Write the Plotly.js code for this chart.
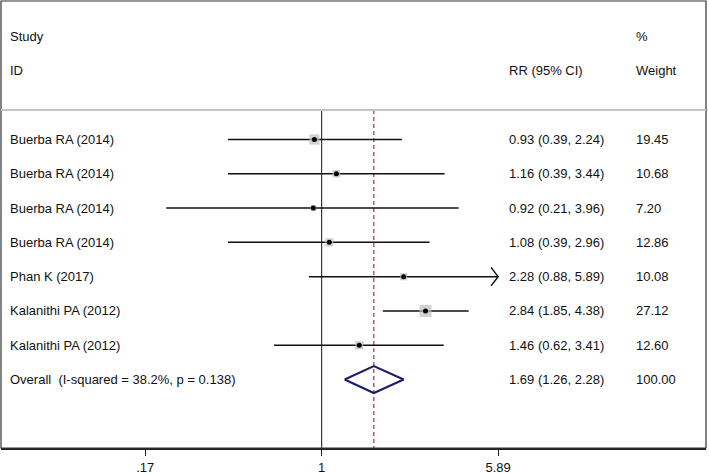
<!DOCTYPE html>
<html>
<head>
<meta charset="utf-8">
<script src="https://cdn.plot.ly/plotly-3.0.1.min.js"></script>
<style>html,body{margin:0;padding:0;background:#fff;}#chart{width:709px;height:474px;}</style>
</head>
<body>
<div id="chart"></div>
<script>
// ---- data ----
const studies = ['Buerba RA (2014)', 'Buerba RA (2014)', 'Buerba RA (2014)', 'Buerba RA (2014)',
                 'Phan K (2017)', 'Kalanithi PA (2012)', 'Kalanithi PA (2012)'];
const rr     = [0.93, 1.16, 0.92, 1.08, 2.28, 2.84, 1.46];
const lower  = [0.39, 0.39, 0.21, 0.39, 0.88, 1.85, 0.62];
const upper  = [2.24, 3.44, 3.96, 2.96, 5.89, 4.38, 3.41];
const weight = [19.45, 10.68, 7.20, 12.86, 10.08, 27.12, 12.60];
const overallLabel = 'Overall\u00a0 (I-squared = 38.2%, p = 0.138)';
const overallRR = 1.69, overallLo = 1.26, overallHi = 2.28, overallWeight = 100.00;
const tickVals = [0.17, 1, 5.89];
const tickText = ['.17', '1', '5.89'];
const headers = {study: 'Study', id: 'ID', rr: 'RR (95% CI)', pct: '%', weight: 'Weight'};

// ---- layout helpers ----
const n = studies.length;
const rows = studies.map((_, i) => i);
const overallRow = n;
const yTop = -4.039, yBot = 8.997;
const sepY = -0.86;
const xMin = -1.3988, xMax = 1.6771; // log10 range
const font = {family: '"Liberation Sans", Arial, sans-serif', size: 13, color: '#111'};

const traces = [];
// null line
traces.push({x: [1, 1], y: [sepY, yBot], mode: 'lines', line: {color: '#3a3a3a', width: 1.2}, hoverinfo: 'skip'});
// overall dashed line
traces.push({x: [overallRR, overallRR], y: [sepY, yBot], mode: 'lines', line: {color: '#a8323e', width: 1.2, dash: '4px,3px'}, hoverinfo: 'skip'});
// CI lines
const cx = [], cy = [];
for (let i = 0; i < n; i++) { cx.push(lower[i], upper[i], null); cy.push(rows[i], rows[i], null); }
traces.push({x: cx, y: cy, mode: 'lines', line: {color: '#111', width: 1.5}, hoverinfo: 'skip'});
// arrows for clipped upper limits
const axMax = tickVals[tickVals.length - 1];
const ax = [], ay = [];
for (let i = 0; i < n; i++) {
  if (upper[i] >= axMax) {
    const back = upper[i] / Math.pow(10, 0.031);
    ax.push(back, upper[i], back, null); ay.push(rows[i] - 0.27, rows[i], rows[i] + 0.27, null);
  }
}
traces.push({x: ax, y: ay, mode: 'lines', line: {color: '#111', width: 1.5}, hoverinfo: 'skip'});
// weight boxes
const maxW = Math.max(...weight);
traces.push({x: rr, y: rows, mode: 'markers', marker: {symbol: 'square', color: '#bdbdbd', size: weight.map(w => 12 * Math.sqrt(w / maxW)), line: {width: 0}}, hoverinfo: 'skip'});
// point estimates
traces.push({x: rr, y: rows, mode: 'markers', marker: {symbol: 'circle', color: '#000', size: 5}, hoverinfo: 'skip'});
// overall diamond
const dh = 0.394;
traces.push({x: [overallLo, overallRR, overallHi, overallRR, overallLo],
             y: [overallRow, overallRow - dh, overallRow, overallRow + dh, overallRow],
             mode: 'lines', line: {color: '#1c1c6b', width: 2}, hoverinfo: 'skip'});

// annotations
const xStudy = (8 - 1) / 705, xRR = (507 - 1) / 705, xW = (634 - 1) / 705;
const ann = [];
function t(x, y, text) { ann.push({xref: 'paper', yref: 'y', x: x, y: y, text: text, showarrow: false, xanchor: 'left', yanchor: 'middle', font: font}); }
t(xStudy, -3, headers.study); t(xStudy, -2, headers.id);
t(xRR, -2, headers.rr); t(xW, -3, headers.pct); t(xW, -2, headers.weight);
for (let i = 0; i < n; i++) {
  t(xStudy, rows[i], studies[i]);
  t(xRR, rows[i], rr[i].toFixed(2) + ' (' + lower[i].toFixed(2) + ', ' + upper[i].toFixed(2) + ')');
  t(xW, rows[i], weight[i].toFixed(2));
}
t(xStudy, overallRow, overallLabel);
t(xRR, overallRow, overallRR.toFixed(2) + ' (' + overallLo.toFixed(2) + ', ' + overallHi.toFixed(2) + ')');
t(xW, overallRow, overallWeight.toFixed(2));

const layout = {
  width: 709, height: 474,
  margin: {l: 1, r: 3, t: 1, b: 26},
  paper_bgcolor: '#fff', plot_bgcolor: '#fff',
  showlegend: false,
  xaxis: {type: 'log', range: [xMin, xMax], tickvals: tickVals, ticktext: tickText,
          ticks: 'outside', ticklen: 6, tickwidth: 1.2, tickcolor: '#222',
          showline: true, linecolor: '#222', linewidth: 2, showgrid: false, zeroline: false,
          tickfont: font, fixedrange: true},
  yaxis: {range: [yBot, yTop], visible: false, fixedrange: true},
  annotations: ann,
  shapes: [
    {type: 'rect', xref: 'paper', yref: 'paper', x0: 0, x1: 1, y0: 0, y1: 1, line: {color: '#333', width: 1.2}},
    {type: 'line', xref: 'paper', yref: 'y', x0: 0, x1: 1, y0: sepY, y1: sepY, line: {color: '#c4c4c4', width: 2}}
  ]
};
Plotly.newPlot('chart', traces, layout, {staticPlot: true, displayModeBar: false});
</script>
</body>
</html>
